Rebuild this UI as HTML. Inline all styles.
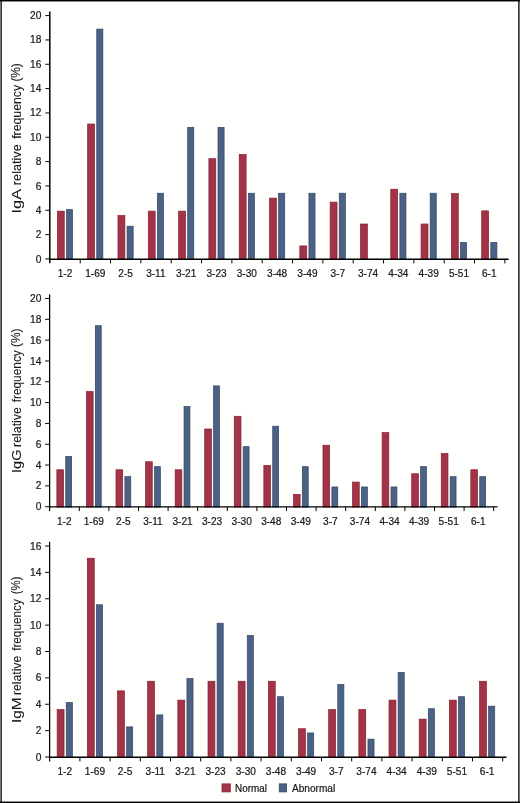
<!DOCTYPE html>
<html><head><meta charset="utf-8"><title>Chart</title>
<style>
html,body{margin:0;padding:0;background:#fffffd;}
body{width:520px;height:803px;position:relative;overflow:hidden;font-family:"Liberation Sans",sans-serif;}
svg text{font-family:"Liberation Sans",sans-serif;}
</style></head><body>
<svg width="520" height="803" viewBox="0 0 520 803" style="position:absolute;left:0;top:0">
<rect x="0" y="0" width="520" height="803" fill="#fffffd"/>
<rect x="0" y="0" width="1" height="803" fill="#737373"/>
<rect x="1" y="0" width="1" height="803" fill="#3a3a3a"/>
<rect x="518" y="0" width="1" height="803" fill="#3a3a3a"/>
<rect x="519" y="0" width="1" height="803" fill="#707070"/>
<rect x="0" y="1" width="520" height="1" fill="#000" fill-opacity="0.47"/>
<rect x="0" y="0" width="520" height="1" fill="#000"/>
<rect x="0" y="801" width="520" height="1" fill="#000" fill-opacity="0.44"/>
<rect x="0" y="802" width="520" height="1" fill="#000"/>
<rect x="57.35" y="211.12" width="6.90" height="48.18" fill="#a23448" stroke="#8c1c30" stroke-width="0.7"/>
<rect x="66.45" y="209.66" width="6.10" height="49.64" fill="#4b6284" stroke="#2f4468" stroke-width="0.7"/>
<rect x="87.66" y="124.00" width="6.90" height="135.30" fill="#a23448" stroke="#8c1c30" stroke-width="0.7"/>
<rect x="96.76" y="29.09" width="6.10" height="230.21" fill="#4b6284" stroke="#2f4468" stroke-width="0.7"/>
<rect x="117.97" y="215.50" width="6.90" height="43.80" fill="#a23448" stroke="#8c1c30" stroke-width="0.7"/>
<rect x="127.07" y="226.20" width="6.10" height="33.10" fill="#4b6284" stroke="#2f4468" stroke-width="0.7"/>
<rect x="148.28" y="211.12" width="6.90" height="48.18" fill="#a23448" stroke="#8c1c30" stroke-width="0.7"/>
<rect x="157.38" y="193.23" width="6.10" height="66.07" fill="#4b6284" stroke="#2f4468" stroke-width="0.7"/>
<rect x="178.59" y="211.12" width="6.90" height="48.18" fill="#a23448" stroke="#8c1c30" stroke-width="0.7"/>
<rect x="187.69" y="127.40" width="6.10" height="131.90" fill="#4b6284" stroke="#2f4468" stroke-width="0.7"/>
<rect x="208.90" y="158.67" width="6.90" height="100.63" fill="#a23448" stroke="#8c1c30" stroke-width="0.7"/>
<rect x="218.00" y="127.40" width="6.10" height="131.90" fill="#4b6284" stroke="#2f4468" stroke-width="0.7"/>
<rect x="239.21" y="154.54" width="6.90" height="104.76" fill="#a23448" stroke="#8c1c30" stroke-width="0.7"/>
<rect x="248.31" y="193.23" width="6.10" height="66.07" fill="#4b6284" stroke="#2f4468" stroke-width="0.7"/>
<rect x="269.52" y="198.10" width="6.90" height="61.20" fill="#a23448" stroke="#8c1c30" stroke-width="0.7"/>
<rect x="278.62" y="193.23" width="6.10" height="66.07" fill="#4b6284" stroke="#2f4468" stroke-width="0.7"/>
<rect x="299.83" y="245.92" width="6.90" height="13.38" fill="#a23448" stroke="#8c1c30" stroke-width="0.7"/>
<rect x="308.93" y="193.23" width="6.10" height="66.07" fill="#4b6284" stroke="#2f4468" stroke-width="0.7"/>
<rect x="330.14" y="202.11" width="6.90" height="57.19" fill="#a23448" stroke="#8c1c30" stroke-width="0.7"/>
<rect x="339.24" y="193.23" width="6.10" height="66.07" fill="#4b6284" stroke="#2f4468" stroke-width="0.7"/>
<rect x="360.45" y="224.01" width="6.90" height="35.29" fill="#a23448" stroke="#8c1c30" stroke-width="0.7"/>
<rect x="390.76" y="189.22" width="6.90" height="70.08" fill="#a23448" stroke="#8c1c30" stroke-width="0.7"/>
<rect x="399.86" y="193.23" width="6.10" height="66.07" fill="#4b6284" stroke="#2f4468" stroke-width="0.7"/>
<rect x="421.07" y="224.01" width="6.90" height="35.29" fill="#a23448" stroke="#8c1c30" stroke-width="0.7"/>
<rect x="430.17" y="193.23" width="6.10" height="66.07" fill="#4b6284" stroke="#2f4468" stroke-width="0.7"/>
<rect x="451.38" y="193.60" width="6.90" height="65.70" fill="#a23448" stroke="#8c1c30" stroke-width="0.7"/>
<rect x="460.48" y="242.51" width="6.10" height="16.79" fill="#4b6284" stroke="#2f4468" stroke-width="0.7"/>
<rect x="481.69" y="210.87" width="6.90" height="48.43" fill="#a23448" stroke="#8c1c30" stroke-width="0.7"/>
<rect x="490.79" y="242.51" width="6.10" height="16.79" fill="#4b6284" stroke="#2f4468" stroke-width="0.7"/>
<path d="M49.80 11.40V263.35" stroke="#000" stroke-width="1.5" fill="none"/>
<path d="M49.05 259.22H508.65" stroke="#000" stroke-width="1.45" fill="none"/>
<path d="M45.40 258.95H49.90M45.40 234.61H49.90M45.40 210.28H49.90M45.40 185.94H49.90M45.40 161.61H49.90M45.40 137.27H49.90M45.40 112.94H49.90M45.40 88.60H49.90M45.40 64.27H49.90M45.40 39.93H49.90M45.40 15.60H49.90M80.23 258.95V263.35M110.56 258.95V263.35M140.89 258.95V263.35M171.22 258.95V263.35M201.55 258.95V263.35M231.88 258.95V263.35M262.21 258.95V263.35M292.54 258.95V263.35M322.87 258.95V263.35M353.20 258.95V263.35M383.53 258.95V263.35M413.86 258.95V263.35M444.19 258.95V263.35M474.52 258.95V263.35M504.85 258.95V263.35" stroke="#000" stroke-width="1.0" fill="none"/>
<rect x="56.85" y="469.78" width="6.70" height="37.27" fill="#a23448" stroke="#8c1c30" stroke-width="0.7"/>
<rect x="65.75" y="456.56" width="5.90" height="50.49" fill="#4b6284" stroke="#2f4468" stroke-width="0.7"/>
<rect x="86.42" y="391.50" width="6.70" height="115.55" fill="#a23448" stroke="#8c1c30" stroke-width="0.7"/>
<rect x="95.32" y="325.71" width="5.90" height="181.34" fill="#4b6284" stroke="#2f4468" stroke-width="0.7"/>
<rect x="115.99" y="469.78" width="6.70" height="37.27" fill="#a23448" stroke="#8c1c30" stroke-width="0.7"/>
<rect x="124.89" y="476.65" width="5.90" height="30.40" fill="#4b6284" stroke="#2f4468" stroke-width="0.7"/>
<rect x="145.56" y="461.77" width="6.70" height="45.28" fill="#a23448" stroke="#8c1c30" stroke-width="0.7"/>
<rect x="154.46" y="466.66" width="5.90" height="40.39" fill="#4b6284" stroke="#2f4468" stroke-width="0.7"/>
<rect x="175.13" y="469.78" width="6.70" height="37.27" fill="#a23448" stroke="#8c1c30" stroke-width="0.7"/>
<rect x="184.03" y="406.49" width="5.90" height="100.56" fill="#4b6284" stroke="#2f4468" stroke-width="0.7"/>
<rect x="204.70" y="428.98" width="6.70" height="78.08" fill="#a23448" stroke="#8c1c30" stroke-width="0.7"/>
<rect x="213.60" y="385.88" width="5.90" height="121.17" fill="#4b6284" stroke="#2f4468" stroke-width="0.7"/>
<rect x="234.27" y="416.27" width="6.70" height="90.78" fill="#a23448" stroke="#8c1c30" stroke-width="0.7"/>
<rect x="243.17" y="446.67" width="5.90" height="60.38" fill="#4b6284" stroke="#2f4468" stroke-width="0.7"/>
<rect x="263.84" y="465.41" width="6.70" height="41.64" fill="#a23448" stroke="#8c1c30" stroke-width="0.7"/>
<rect x="272.74" y="426.16" width="5.90" height="80.89" fill="#4b6284" stroke="#2f4468" stroke-width="0.7"/>
<rect x="293.41" y="494.35" width="6.70" height="12.70" fill="#a23448" stroke="#8c1c30" stroke-width="0.7"/>
<rect x="302.31" y="466.66" width="5.90" height="40.39" fill="#4b6284" stroke="#2f4468" stroke-width="0.7"/>
<rect x="322.98" y="445.21" width="6.70" height="61.84" fill="#a23448" stroke="#8c1c30" stroke-width="0.7"/>
<rect x="331.88" y="486.96" width="5.90" height="20.09" fill="#4b6284" stroke="#2f4468" stroke-width="0.7"/>
<rect x="352.55" y="482.07" width="6.70" height="24.98" fill="#a23448" stroke="#8c1c30" stroke-width="0.7"/>
<rect x="361.45" y="486.96" width="5.90" height="20.09" fill="#4b6284" stroke="#2f4468" stroke-width="0.7"/>
<rect x="382.12" y="432.62" width="6.70" height="74.43" fill="#a23448" stroke="#8c1c30" stroke-width="0.7"/>
<rect x="391.02" y="486.96" width="5.90" height="20.09" fill="#4b6284" stroke="#2f4468" stroke-width="0.7"/>
<rect x="411.69" y="473.74" width="6.70" height="33.31" fill="#a23448" stroke="#8c1c30" stroke-width="0.7"/>
<rect x="420.59" y="466.66" width="5.90" height="40.39" fill="#4b6284" stroke="#2f4468" stroke-width="0.7"/>
<rect x="441.26" y="453.44" width="6.70" height="53.61" fill="#a23448" stroke="#8c1c30" stroke-width="0.7"/>
<rect x="450.16" y="476.65" width="5.90" height="30.40" fill="#4b6284" stroke="#2f4468" stroke-width="0.7"/>
<rect x="470.83" y="469.78" width="6.70" height="37.27" fill="#a23448" stroke="#8c1c30" stroke-width="0.7"/>
<rect x="479.73" y="476.65" width="5.90" height="30.40" fill="#4b6284" stroke="#2f4468" stroke-width="0.7"/>
<path d="M49.62 294.30V511.10" stroke="#000" stroke-width="1.25" fill="none"/>
<path d="M48.99 506.90H497.50" stroke="#000" stroke-width="1.4" fill="none"/>
<path d="M45.20 506.70H49.70M45.20 485.88H49.70M45.20 465.06H49.70M45.20 444.24H49.70M45.20 423.42H49.70M45.20 402.60H49.70M45.20 381.78H49.70M45.20 360.96H49.70M45.20 340.14H49.70M45.20 319.32H49.70M45.20 298.50H49.70M79.30 506.70V511.10M108.90 506.70V511.10M138.50 506.70V511.10M168.10 506.70V511.10M197.70 506.70V511.10M227.30 506.70V511.10M256.90 506.70V511.10M286.50 506.70V511.10M316.10 506.70V511.10M345.70 506.70V511.10M375.30 506.70V511.10M404.90 506.70V511.10M434.50 506.70V511.10M464.10 506.70V511.10M493.70 506.70V511.10" stroke="#000" stroke-width="1.0" fill="none"/>
<rect x="57.15" y="709.61" width="6.90" height="47.74" fill="#a23448" stroke="#8c1c30" stroke-width="0.7"/>
<rect x="66.25" y="702.62" width="6.10" height="54.73" fill="#4b6284" stroke="#2f4468" stroke-width="0.7"/>
<rect x="87.32" y="558.22" width="6.90" height="199.13" fill="#a23448" stroke="#8c1c30" stroke-width="0.7"/>
<rect x="96.42" y="604.77" width="6.10" height="152.58" fill="#4b6284" stroke="#2f4468" stroke-width="0.7"/>
<rect x="117.49" y="690.88" width="6.90" height="66.47" fill="#a23448" stroke="#8c1c30" stroke-width="0.7"/>
<rect x="126.59" y="726.89" width="6.10" height="30.46" fill="#4b6284" stroke="#2f4468" stroke-width="0.7"/>
<rect x="147.66" y="681.26" width="6.90" height="76.09" fill="#a23448" stroke="#8c1c30" stroke-width="0.7"/>
<rect x="156.76" y="714.89" width="6.10" height="42.46" fill="#4b6284" stroke="#2f4468" stroke-width="0.7"/>
<rect x="177.83" y="700.12" width="6.90" height="57.23" fill="#a23448" stroke="#8c1c30" stroke-width="0.7"/>
<rect x="186.93" y="678.62" width="6.10" height="78.73" fill="#4b6284" stroke="#2f4468" stroke-width="0.7"/>
<rect x="208.00" y="681.26" width="6.90" height="76.09" fill="#a23448" stroke="#8c1c30" stroke-width="0.7"/>
<rect x="217.10" y="623.23" width="6.10" height="134.12" fill="#4b6284" stroke="#2f4468" stroke-width="0.7"/>
<rect x="238.17" y="681.26" width="6.90" height="76.09" fill="#a23448" stroke="#8c1c30" stroke-width="0.7"/>
<rect x="247.27" y="635.50" width="6.10" height="121.85" fill="#4b6284" stroke="#2f4468" stroke-width="0.7"/>
<rect x="268.34" y="681.26" width="6.90" height="76.09" fill="#a23448" stroke="#8c1c30" stroke-width="0.7"/>
<rect x="277.44" y="696.69" width="6.10" height="60.66" fill="#4b6284" stroke="#2f4468" stroke-width="0.7"/>
<rect x="298.51" y="728.73" width="6.90" height="28.62" fill="#a23448" stroke="#8c1c30" stroke-width="0.7"/>
<rect x="307.61" y="732.95" width="6.10" height="24.40" fill="#4b6284" stroke="#2f4468" stroke-width="0.7"/>
<rect x="328.68" y="709.61" width="6.90" height="47.74" fill="#a23448" stroke="#8c1c30" stroke-width="0.7"/>
<rect x="337.78" y="684.42" width="6.10" height="72.93" fill="#4b6284" stroke="#2f4468" stroke-width="0.7"/>
<rect x="358.85" y="709.61" width="6.90" height="47.74" fill="#a23448" stroke="#8c1c30" stroke-width="0.7"/>
<rect x="367.95" y="739.15" width="6.10" height="18.20" fill="#4b6284" stroke="#2f4468" stroke-width="0.7"/>
<rect x="389.02" y="700.12" width="6.90" height="57.23" fill="#a23448" stroke="#8c1c30" stroke-width="0.7"/>
<rect x="398.12" y="672.42" width="6.10" height="84.93" fill="#4b6284" stroke="#2f4468" stroke-width="0.7"/>
<rect x="419.19" y="719.11" width="6.90" height="38.24" fill="#a23448" stroke="#8c1c30" stroke-width="0.7"/>
<rect x="428.29" y="708.69" width="6.10" height="48.66" fill="#4b6284" stroke="#2f4468" stroke-width="0.7"/>
<rect x="449.36" y="700.12" width="6.90" height="57.23" fill="#a23448" stroke="#8c1c30" stroke-width="0.7"/>
<rect x="458.46" y="696.69" width="6.10" height="60.66" fill="#4b6284" stroke="#2f4468" stroke-width="0.7"/>
<rect x="479.53" y="681.26" width="6.90" height="76.09" fill="#a23448" stroke="#8c1c30" stroke-width="0.7"/>
<rect x="488.63" y="706.18" width="6.10" height="51.17" fill="#4b6284" stroke="#2f4468" stroke-width="0.7"/>
<path d="M49.62 541.80V761.40" stroke="#000" stroke-width="1.25" fill="none"/>
<path d="M48.99 757.27H506.50" stroke="#000" stroke-width="1.45" fill="none"/>
<path d="M45.20 757.00H49.70M45.20 730.62H49.70M45.20 704.25H49.70M45.20 677.88H49.70M45.20 651.50H49.70M45.20 625.12H49.70M45.20 598.75H49.70M45.20 572.38H49.70M45.20 546.00H49.70M79.90 757.00V761.40M110.10 757.00V761.40M140.30 757.00V761.40M170.50 757.00V761.40M200.70 757.00V761.40M230.90 757.00V761.40M261.10 757.00V761.40M291.30 757.00V761.40M321.50 757.00V761.40M351.70 757.00V761.40M381.90 757.00V761.40M412.10 757.00V761.40M442.30 757.00V761.40M472.50 757.00V761.40M502.70 757.00V761.40" stroke="#000" stroke-width="1.0" fill="none"/>
<rect x="221.95" y="783.85" width="8.4" height="8.1" fill="#a23448" stroke="#8c1c30" stroke-width="0.7"/>
<rect x="279.2" y="783.85" width="7.45" height="8.1" fill="#4b6284" stroke="#2f4468" stroke-width="0.7"/>
<g opacity="0.999" stroke="#1a1a1a" stroke-width="0.22">
<text transform="translate(41.45 262.50) scale(1.02 1)" text-anchor="end" font-size="10.0" fill="#1a1a1a">0</text>
<text transform="translate(41.45 238.16) scale(1.02 1)" text-anchor="end" font-size="10.0" fill="#1a1a1a">2</text>
<text transform="translate(41.45 213.83) scale(1.02 1)" text-anchor="end" font-size="10.0" fill="#1a1a1a">4</text>
<text transform="translate(41.45 189.50) scale(1.02 1)" text-anchor="end" font-size="10.0" fill="#1a1a1a">6</text>
<text transform="translate(41.45 165.16) scale(1.02 1)" text-anchor="end" font-size="10.0" fill="#1a1a1a">8</text>
<text transform="translate(41.45 140.82) scale(1.02 1)" text-anchor="end" font-size="10.0" fill="#1a1a1a">10</text>
<text transform="translate(41.45 116.49) scale(1.02 1)" text-anchor="end" font-size="10.0" fill="#1a1a1a">12</text>
<text transform="translate(41.45 92.15) scale(1.02 1)" text-anchor="end" font-size="10.0" fill="#1a1a1a">14</text>
<text transform="translate(41.45 67.82) scale(1.02 1)" text-anchor="end" font-size="10.0" fill="#1a1a1a">16</text>
<text transform="translate(41.45 43.48) scale(1.02 1)" text-anchor="end" font-size="10.0" fill="#1a1a1a">18</text>
<text transform="translate(41.45 19.15) scale(1.02 1)" text-anchor="end" font-size="10.0" fill="#1a1a1a">20</text>
<text transform="translate(64.95 277.00) scale(1.01 1)" text-anchor="middle" font-size="10.0" fill="#1a1a1a">1-2</text>
<text transform="translate(95.26 277.00) scale(1.01 1)" text-anchor="middle" font-size="10.0" fill="#1a1a1a">1-69</text>
<text transform="translate(125.57 277.00) scale(1.01 1)" text-anchor="middle" font-size="10.0" fill="#1a1a1a">2-5</text>
<text transform="translate(155.88 277.00) scale(1.01 1)" text-anchor="middle" font-size="10.0" fill="#1a1a1a">3-11</text>
<text transform="translate(186.19 277.00) scale(1.01 1)" text-anchor="middle" font-size="10.0" fill="#1a1a1a">3-21</text>
<text transform="translate(216.50 277.00) scale(1.01 1)" text-anchor="middle" font-size="10.0" fill="#1a1a1a">3-23</text>
<text transform="translate(246.81 277.00) scale(1.01 1)" text-anchor="middle" font-size="10.0" fill="#1a1a1a">3-30</text>
<text transform="translate(277.12 277.00) scale(1.01 1)" text-anchor="middle" font-size="10.0" fill="#1a1a1a">3-48</text>
<text transform="translate(307.43 277.00) scale(1.01 1)" text-anchor="middle" font-size="10.0" fill="#1a1a1a">3-49</text>
<text transform="translate(337.74 277.00) scale(1.01 1)" text-anchor="middle" font-size="10.0" fill="#1a1a1a">3-7</text>
<text transform="translate(368.05 277.00) scale(1.01 1)" text-anchor="middle" font-size="10.0" fill="#1a1a1a">3-74</text>
<text transform="translate(398.36 277.00) scale(1.01 1)" text-anchor="middle" font-size="10.0" fill="#1a1a1a">4-34</text>
<text transform="translate(428.67 277.00) scale(1.01 1)" text-anchor="middle" font-size="10.0" fill="#1a1a1a">4-39</text>
<text transform="translate(458.98 277.00) scale(1.01 1)" text-anchor="middle" font-size="10.0" fill="#1a1a1a">5-51</text>
<text transform="translate(489.29 277.00) scale(1.01 1)" text-anchor="middle" font-size="10.0" fill="#1a1a1a">6-1</text>
<text transform="translate(20.5 213.41) rotate(-90) scale(1.2839 1)" font-size="12.65" stroke-width="0.1" fill="#1a1a1a">IgA</text>
<text transform="translate(20.5 185.14) rotate(-90) scale(1.0040 1)" font-size="12.65" stroke-width="0.1" fill="#1a1a1a">relative</text>
<text transform="translate(20.5 138.87) rotate(-90) scale(0.9728 1)" font-size="12.65" stroke-width="0.1" fill="#1a1a1a">frequency</text>
<text transform="translate(20.0 81.61) rotate(-90) scale(0.9370 0.95)" font-size="12.65" stroke-width="0.1" fill="#1a1a1a">(%)</text>
<text transform="translate(41.45 510.25) scale(1.02 1)" text-anchor="end" font-size="10.0" fill="#1a1a1a">0</text>
<text transform="translate(41.45 489.43) scale(1.02 1)" text-anchor="end" font-size="10.0" fill="#1a1a1a">2</text>
<text transform="translate(41.45 468.61) scale(1.02 1)" text-anchor="end" font-size="10.0" fill="#1a1a1a">4</text>
<text transform="translate(41.45 447.79) scale(1.02 1)" text-anchor="end" font-size="10.0" fill="#1a1a1a">6</text>
<text transform="translate(41.45 426.97) scale(1.02 1)" text-anchor="end" font-size="10.0" fill="#1a1a1a">8</text>
<text transform="translate(41.45 406.15) scale(1.02 1)" text-anchor="end" font-size="10.0" fill="#1a1a1a">10</text>
<text transform="translate(41.45 385.33) scale(1.02 1)" text-anchor="end" font-size="10.0" fill="#1a1a1a">12</text>
<text transform="translate(41.45 364.51) scale(1.02 1)" text-anchor="end" font-size="10.0" fill="#1a1a1a">14</text>
<text transform="translate(41.45 343.69) scale(1.02 1)" text-anchor="end" font-size="10.0" fill="#1a1a1a">16</text>
<text transform="translate(41.45 322.87) scale(1.02 1)" text-anchor="end" font-size="10.0" fill="#1a1a1a">18</text>
<text transform="translate(41.45 302.05) scale(1.02 1)" text-anchor="end" font-size="10.0" fill="#1a1a1a">20</text>
<text transform="translate(64.25 524.75) scale(1.01 1)" text-anchor="middle" font-size="10.0" fill="#1a1a1a">1-2</text>
<text transform="translate(93.82 524.75) scale(1.01 1)" text-anchor="middle" font-size="10.0" fill="#1a1a1a">1-69</text>
<text transform="translate(123.39 524.75) scale(1.01 1)" text-anchor="middle" font-size="10.0" fill="#1a1a1a">2-5</text>
<text transform="translate(152.96 524.75) scale(1.01 1)" text-anchor="middle" font-size="10.0" fill="#1a1a1a">3-11</text>
<text transform="translate(182.53 524.75) scale(1.01 1)" text-anchor="middle" font-size="10.0" fill="#1a1a1a">3-21</text>
<text transform="translate(212.10 524.75) scale(1.01 1)" text-anchor="middle" font-size="10.0" fill="#1a1a1a">3-23</text>
<text transform="translate(241.67 524.75) scale(1.01 1)" text-anchor="middle" font-size="10.0" fill="#1a1a1a">3-30</text>
<text transform="translate(271.24 524.75) scale(1.01 1)" text-anchor="middle" font-size="10.0" fill="#1a1a1a">3-48</text>
<text transform="translate(300.81 524.75) scale(1.01 1)" text-anchor="middle" font-size="10.0" fill="#1a1a1a">3-49</text>
<text transform="translate(330.38 524.75) scale(1.01 1)" text-anchor="middle" font-size="10.0" fill="#1a1a1a">3-7</text>
<text transform="translate(359.95 524.75) scale(1.01 1)" text-anchor="middle" font-size="10.0" fill="#1a1a1a">3-74</text>
<text transform="translate(389.52 524.75) scale(1.01 1)" text-anchor="middle" font-size="10.0" fill="#1a1a1a">4-34</text>
<text transform="translate(419.09 524.75) scale(1.01 1)" text-anchor="middle" font-size="10.0" fill="#1a1a1a">4-39</text>
<text transform="translate(448.66 524.75) scale(1.01 1)" text-anchor="middle" font-size="10.0" fill="#1a1a1a">5-51</text>
<text transform="translate(478.23 524.75) scale(1.01 1)" text-anchor="middle" font-size="10.0" fill="#1a1a1a">6-1</text>
<text transform="translate(20.5 472.96) rotate(-90) scale(1.1503 1)" font-size="12.65" stroke-width="0.1" fill="#1a1a1a">IgG</text>
<text transform="translate(20.5 446.91) rotate(-90) scale(0.9748 1)" font-size="12.65" stroke-width="0.1" fill="#1a1a1a">relative</text>
<text transform="translate(20.5 402.37) rotate(-90) scale(0.9403 1)" font-size="12.65" stroke-width="0.1" fill="#1a1a1a">frequency</text>
<text transform="translate(20.0 347.07) rotate(-90) scale(0.9453 0.95)" font-size="12.65" stroke-width="0.1" fill="#1a1a1a">(%)</text>
<text transform="translate(41.45 760.55) scale(1.02 1)" text-anchor="end" font-size="10.0" fill="#1a1a1a">0</text>
<text transform="translate(41.45 734.17) scale(1.02 1)" text-anchor="end" font-size="10.0" fill="#1a1a1a">2</text>
<text transform="translate(41.45 707.80) scale(1.02 1)" text-anchor="end" font-size="10.0" fill="#1a1a1a">4</text>
<text transform="translate(41.45 681.42) scale(1.02 1)" text-anchor="end" font-size="10.0" fill="#1a1a1a">6</text>
<text transform="translate(41.45 655.05) scale(1.02 1)" text-anchor="end" font-size="10.0" fill="#1a1a1a">8</text>
<text transform="translate(41.45 628.67) scale(1.02 1)" text-anchor="end" font-size="10.0" fill="#1a1a1a">10</text>
<text transform="translate(41.45 602.30) scale(1.02 1)" text-anchor="end" font-size="10.0" fill="#1a1a1a">12</text>
<text transform="translate(41.45 575.92) scale(1.02 1)" text-anchor="end" font-size="10.0" fill="#1a1a1a">14</text>
<text transform="translate(41.45 549.55) scale(1.02 1)" text-anchor="end" font-size="10.0" fill="#1a1a1a">16</text>
<text transform="translate(64.75 775.05) scale(1.01 1)" text-anchor="middle" font-size="10.0" fill="#1a1a1a">1-2</text>
<text transform="translate(94.92 775.05) scale(1.01 1)" text-anchor="middle" font-size="10.0" fill="#1a1a1a">1-69</text>
<text transform="translate(125.09 775.05) scale(1.01 1)" text-anchor="middle" font-size="10.0" fill="#1a1a1a">2-5</text>
<text transform="translate(155.26 775.05) scale(1.01 1)" text-anchor="middle" font-size="10.0" fill="#1a1a1a">3-11</text>
<text transform="translate(185.43 775.05) scale(1.01 1)" text-anchor="middle" font-size="10.0" fill="#1a1a1a">3-21</text>
<text transform="translate(215.60 775.05) scale(1.01 1)" text-anchor="middle" font-size="10.0" fill="#1a1a1a">3-23</text>
<text transform="translate(245.77 775.05) scale(1.01 1)" text-anchor="middle" font-size="10.0" fill="#1a1a1a">3-30</text>
<text transform="translate(275.94 775.05) scale(1.01 1)" text-anchor="middle" font-size="10.0" fill="#1a1a1a">3-48</text>
<text transform="translate(306.11 775.05) scale(1.01 1)" text-anchor="middle" font-size="10.0" fill="#1a1a1a">3-49</text>
<text transform="translate(336.28 775.05) scale(1.01 1)" text-anchor="middle" font-size="10.0" fill="#1a1a1a">3-7</text>
<text transform="translate(366.45 775.05) scale(1.01 1)" text-anchor="middle" font-size="10.0" fill="#1a1a1a">3-74</text>
<text transform="translate(396.62 775.05) scale(1.01 1)" text-anchor="middle" font-size="10.0" fill="#1a1a1a">4-34</text>
<text transform="translate(426.79 775.05) scale(1.01 1)" text-anchor="middle" font-size="10.0" fill="#1a1a1a">4-39</text>
<text transform="translate(456.96 775.05) scale(1.01 1)" text-anchor="middle" font-size="10.0" fill="#1a1a1a">5-51</text>
<text transform="translate(487.13 775.05) scale(1.01 1)" text-anchor="middle" font-size="10.0" fill="#1a1a1a">6-1</text>
<text transform="translate(20.5 723.04) rotate(-90) scale(1.2174 1)" font-size="12.65" stroke-width="0.1" fill="#1a1a1a">IgM</text>
<text transform="translate(20.5 695.11) rotate(-90) scale(0.9659 1)" font-size="12.65" stroke-width="0.1" fill="#1a1a1a">relative</text>
<text transform="translate(20.5 650.87) rotate(-90) scale(0.9313 1)" font-size="12.65" stroke-width="0.1" fill="#1a1a1a">frequency</text>
<text transform="translate(20.0 594.34) rotate(-90) scale(0.9066 0.95)" font-size="12.65" stroke-width="0.1" fill="#1a1a1a">(%)</text>
<text transform="translate(235 791.75) scale(0.99 1)" font-size="10.0" fill="#1a1a1a">Normal</text>
<text transform="translate(292.0 791.75) scale(1.01 1)" font-size="10.0" fill="#1a1a1a">Abnormal</text>
</g>
</svg>
</body></html>
